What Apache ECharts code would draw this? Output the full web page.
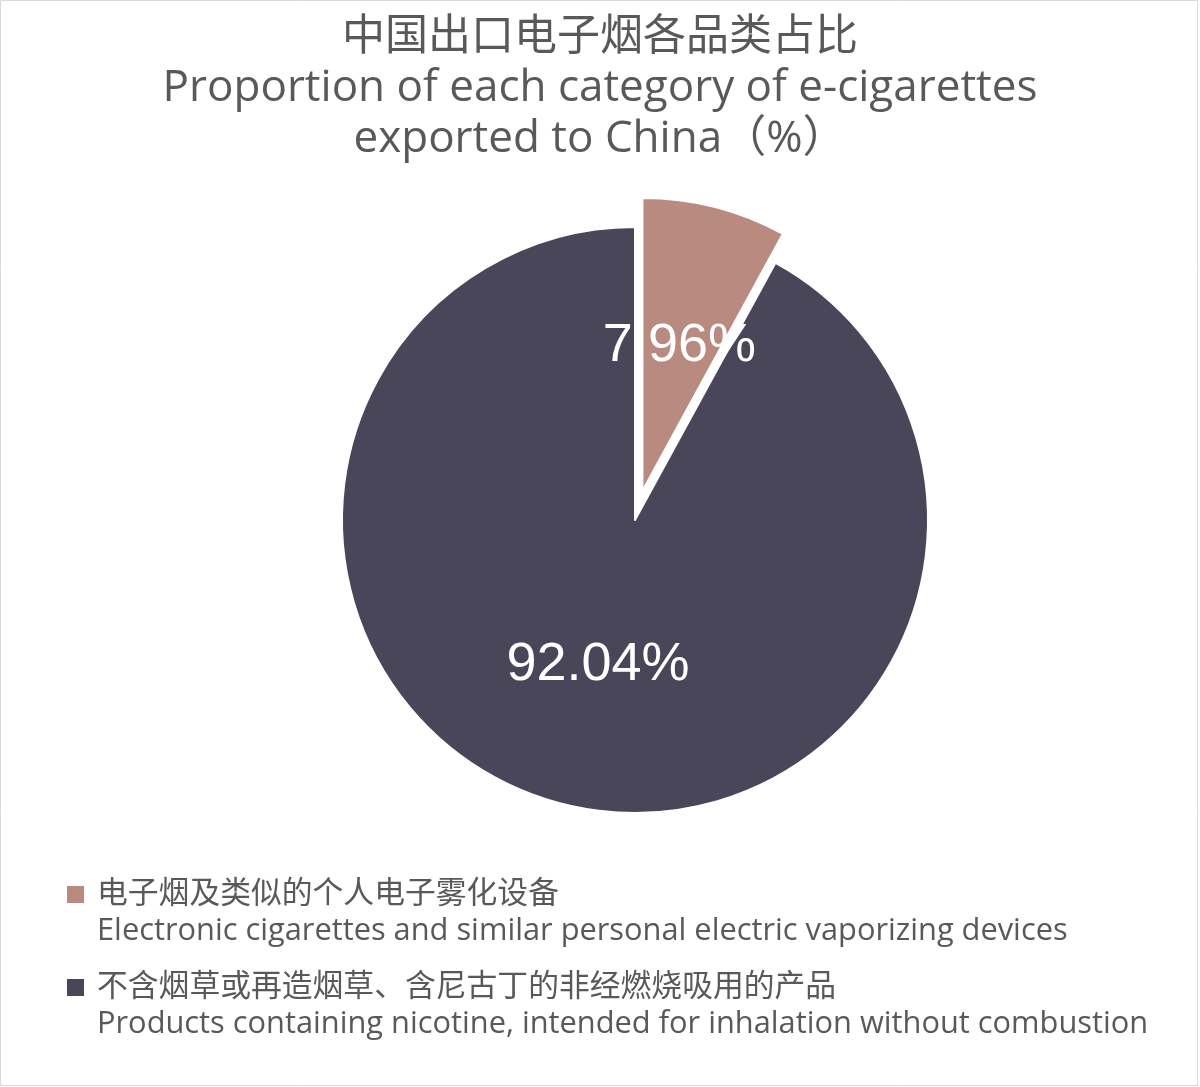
<!DOCTYPE html>
<html>
<head>
<meta charset="utf-8">
<script src="https://cdn.jsdelivr.net/npm/echarts@6/dist/echarts.min.js"></script>
<style>
html,body{margin:0;padding:0;background:#fff;}
#chart{width:1200px;height:1087px;}
</style>
</head>
<body>
<div id="chart"></div>
<script>
const titleLines = ['中国出口电子烟各品类占比', 'Proportion of each category of e-cigarettes', 'exported to China（%）'];
const categories = [
  '电子烟及类似的个人电子雾化设备\nElectronic cigarettes and similar personal electric vaporizing devices',
  '不含烟草或再造烟草、含尼古丁的非经燃烧吸用的产品\nProducts containing nicotine, intended for inhalation without combustion'
];
const values = [7.96, 92.04];
const colors = ['#b98a80', '#4a465a'];

const FONT = "'Open Sans', 'Noto Sans CJK SC', sans-serif";
const LABEL_FONT = "'Liberation Sans', sans-serif";
const iconPath = 'path://M0,10L17,10L17,27L0,27Z M0,0L0,0 M25,74L25,74';
const titleTops = [12, 63, 114];
const titleSizes = [43, 44, 44];

const chart = echarts.init(document.getElementById('chart'), null, {renderer: 'canvas'});
chart.setOption({
  animation: false,
  backgroundColor: '#fff',
  graphic: [{
    type: 'rect', silent: true,
    shape: {x: 0.5, y: 0.5, width: 1197, height: 1085},
    style: {fill: 'none', stroke: '#d9d9d9', lineWidth: 1}
  }],
  title: titleLines.map((t, i) => ({
    text: t,
    left: 'center',
    top: titleTops[i],
    padding: 0,
    textStyle: {fontSize: titleSizes[i], fontWeight: 'normal', color: '#595959', lineHeight: 51, fontFamily: FONT}
  })),
  legend: {
    orient: 'vertical',
    left: 67,
    top: 876,
    padding: 0,
    itemGap: 19,
    itemWidth: 25,
    itemHeight: 74,
    icon: iconPath,
    itemStyle: {borderWidth: 0},
    textStyle: {fontSize: 30.8, lineHeight: 37, color: '#595959', fontFamily: FONT},
    selectedMode: false,
    data: categories
  },
  series: [{
    type: 'pie',
    center: [635, 520],
    radius: 293,
    startAngle: 90,
    clockwise: true,
    selectedMode: 'single',
    selectedOffset: 30,
    avoidLabelOverlap: false,
    emphasis: {disabled: true},
    itemStyle: {borderColor: '#fff', borderWidth: 2},
    label: {
      show: true,
      position: 'inside',
      formatter: '{c}%',
      color: '#fff',
      fontSize: 54,
      fontFamily: LABEL_FONT,
      fontWeight: 'normal'
    },
    labelLine: {show: false},
    data: categories.map((n, i) => ({
      name: n,
      value: values[i],
      selected: i === 0,
      itemStyle: {color: colors[i]}
    }))
  }]
});
</script>
</body>
</html>
